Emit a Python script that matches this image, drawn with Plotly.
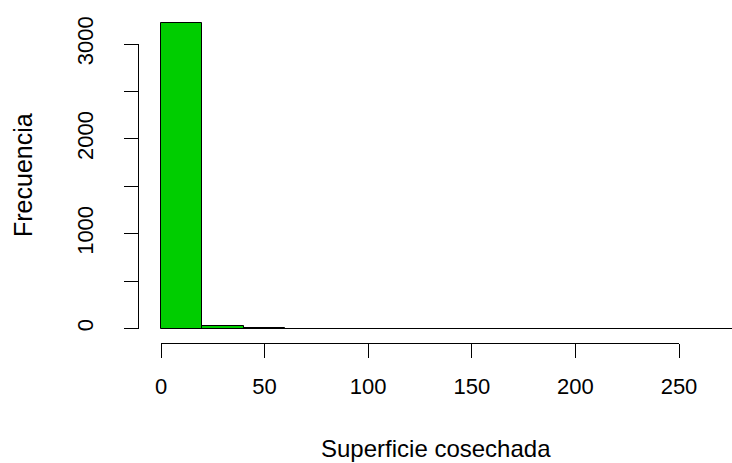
import plotly.graph_objects as go

# Histogram of harvested area: bin edges and counts per bin
bin_edges = [0, 20, 40, 60, 80, 100, 120, 140, 160, 180, 200, 220, 240, 260, 280, 300]
counts = [3218, 30, 10, 0, 0, 0, 0, 0, 0, 0, 0, 0, 0, 0, 1]

x_ticks = [0, 50, 100, 150, 200, 250]
y_ticks = [0, 500, 1000, 1500, 2000, 2500, 3000]
y_tick_text = ["0", "", "1000", "", "2000", "", "3000"]

W, H = 732, 463
FONT = "Liberation Sans, Arial, sans-serif"

# pixel placement of the plotting frame
x0_px, x250_px = 161.0, 679.0      # data 0 and 250 on the x axis
y0_px, y3000_px = 328.5, 44.0      # data 0 and 3000 on the y axis
sx = (x250_px - x0_px) / 250.0
sy = (y0_px - y3000_px) / 3000.0

centers = [(a + b) / 2 for a, b in zip(bin_edges[:-1], bin_edges[1:])]
widths = [b - a for a, b in zip(bin_edges[:-1], bin_edges[1:])]

fig = go.Figure()
# empty bins collapse to their bottom edge: one outline along the whole bin range
fig.add_trace(go.Scatter(
    x=[bin_edges[0], bin_edges[-1]], y=[0, 0], mode="lines",
    line=dict(color="black", width=1), showlegend=False, hoverinfo="skip",
))
fig.add_trace(go.Bar(
    x=centers, y=counts, width=widths,
    marker=dict(color="#00CD00", line=dict(color="black", width=1)),
    showlegend=False, hoverinfo="x+y",
))
# carrier trace for the detached axes
fig.add_trace(go.Scatter(x=[None], y=[None], xaxis="x2", yaxis="y2",
                         showlegend=False, hoverinfo="skip"))

axis_common = dict(showgrid=False, zeroline=False, showline=True,
                   linecolor="black", linewidth=1, ticks="outside",
                   tickcolor="black", tickwidth=1, ticklen=14,
                   tickfont=dict(family=FONT, size=22, color="black"),
                   automargin=False, fixedrange=True)

fig.update_layout(
    width=W, height=H,
    margin=dict(l=0, r=0, t=0, b=0),
    paper_bgcolor="white", plot_bgcolor="rgba(0,0,0,0)",
    bargap=0,
    xaxis=dict(domain=[0, 1], range=[-x0_px / sx, (W - x0_px) / sx],
               visible=False, fixedrange=True),
    yaxis=dict(domain=[0, 1], range=[-(H - y0_px) / sy, y0_px / sy],
               visible=False, fixedrange=True),
    xaxis2=dict(domain=[x0_px / W, x250_px / W], range=[0, 250],
                anchor="free", position=(H - 343.0) / H,
                tickvals=x_ticks, ticktext=[str(v) for v in x_ticks],
                ticklabelstandoff=10, **axis_common),
    yaxis2=dict(domain=[(H - y0_px) / H, (H - y3000_px) / H], range=[0, 3000],
                anchor="free", position=137.7 / W,
                tickvals=y_ticks, ticktext=y_tick_text, tickangle=-90,
                ticklabelstandoff=22, **axis_common),
    annotations=[
        dict(text="Superficie cosechada", x=436 / W, y=1 - 448 / H,
             xref="paper", yref="paper", xanchor="center", yanchor="middle",
             borderpad=0, showarrow=False,
             font=dict(family=FONT, size=24, color="black")),
        dict(text="Frecuencia", x=23 / W, y=1 - 175 / H, textangle=-90,
             xref="paper", yref="paper", xanchor="center", yanchor="middle",
             showarrow=False, font=dict(family=FONT, size=25, color="black")),
    ],
)

fig.write_html("out.html")
